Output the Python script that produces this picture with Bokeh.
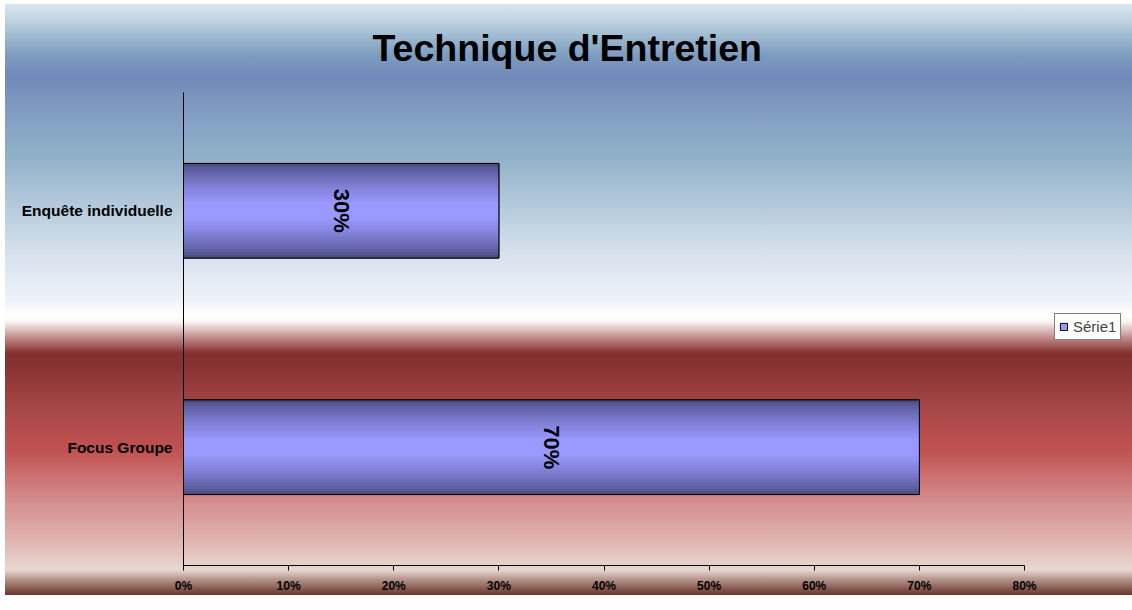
import math
from bokeh.plotting import figure
from bokeh.models import (ColumnDataSource, FactorRange, Range1d, NumeralTickFormatter,
                          FixedTicker, Legend, LegendItem)
from bokeh.core.properties import value
from bokeh.embed import file_html
from bokeh.resources import INLINE

# ---- data ----
categories = ["Focus Groupe", "Enquête individuelle"]   # bottom -> top
values = [0.70, 0.30]
value_labels = ["70%", "30%"]
series_name = "Série1"
x_ticks = [0.0, 0.1, 0.2, 0.3, 0.4, 0.5, 0.6, 0.7, 0.8]
title_text = "Technique d'Entretien"

source = ColumnDataSource(dict(
    cat=categories,
    val=values,
    mid=[v / 2 for v in values],
    lab=value_labels,
))

bg = ("linear-gradient(to right, #ffffff 5px, rgba(255,255,255,0) 5px), "
      "linear-gradient(to bottom, #ffffff 0px, #ffffff 4px, #d8e6f0 4px, "
      "#c0d4e2 20px, #98b4cc 40px, #7e9cc0 55px, #7088b8 78px, #7c98c0 100px, "
      "#90b0c8 155px, #d4e0ec 250px, #eef2f8 300px, #ffffff 316px, #faf2f2 322px, "
      "#c08888 338px, #843030 353px, #863232 365px, #a84848 410px, #c05252 450px, "
      "#d48c8c 500px, #e0b4b0 540px, #e8d8d0 570px, #b09088 580px, #6e3a30 594px)")

p = figure(
    y_range=FactorRange(factors=categories),
    x_range=Range1d(0, 0.8),
    frame_width=841, frame_height=473,
    min_border_left=183, min_border_right=100, min_border_top=92, min_border_bottom=29,
    output_backend="svg", toolbar_location=None,
    title=title_text,
)
p.styles = {"background": bg}
p.background_fill_color = None
p.border_fill_color = None
p.outline_line_color = None

p.title.text_font = "Liberation Sans"
p.title.text_font_size = "37.5px"
p.title.text_font_style = "bold"
p.title.text_color = "black"
p.title.align = "left"
p.title.offset = 189
p.title.standoff = 48

# ---- bars: base (legend proxy) + gradient layers + outline ----
r_base = p.hbar(y="cat", right="val", left=0, height=0.4, source=source,
                fill_color="#9999ff", line_color="black", line_width=1)

dark = (0x46, 0x46, 0x7a)
light = (0x99, 0x99, 0xff)
N = 16
for k in range(N):
    d = (k + 0.5) / N
    f = min(1.0, d / 0.85) ** 0.7
    c = tuple(int(round(dark[i] + (light[i] - dark[i]) * f)) for i in range(3))
    col = "#%02x%02x%02x" % c
    p.hbar(y="cat", right="val", left=0, height=0.4 * (1 - k / N), source=source,
           fill_color=col, line_color=None)

p.hbar(y="cat", right="val", left=0, height=0.4, source=source,
       fill_alpha=0, line_color="black", line_width=1)

p.text(x="mid", y="cat", text="lab", source=source, angle=-math.pi / 2,
       text_align="center", text_baseline="middle",
       text_font=value("Liberation Sans"), text_font_size="22px",
       text_font_style="bold", text_color="black")

legend = Legend(items=[LegendItem(label=series_name, renderers=[r_base])],
                location=(30, 225))
legend.label_text_font = "Liberation Sans"
legend.label_text_font_size = "15px"
legend.glyph_width = 9
legend.glyph_height = 9
legend.label_height = 15
legend.label_standoff = 5
legend.padding = 4
legend.spacing = 0
legend.margin = 0
legend.border_line_color = "black"
legend.border_line_width = 1
legend.background_fill_color = "white"
legend.background_fill_alpha = 1
p.add_layout(legend, "right")

# ---- axes ----
p.xgrid.visible = False
p.ygrid.visible = False

xa = p.xaxis[0]
xa.ticker = FixedTicker(ticks=x_ticks)
xa.formatter = NumeralTickFormatter(format="0%")
xa.axis_line_color = "black"
xa.major_tick_line_color = "black"
xa.major_tick_out = 5
xa.major_tick_in = 0
xa.minor_tick_line_color = None
xa.major_label_standoff = 8
xa.major_label_text_font = "Liberation Sans Narrow, Liberation Sans"
xa.major_label_text_font_size = "12px"
xa.major_label_text_font_style = "bold"
xa.major_label_text_color = "black"

ya = p.yaxis[0]
ya.axis_line_color = "black"
ya.major_tick_line_color = None
ya.major_tick_out = 0
ya.major_tick_in = 0
ya.minor_tick_line_color = None
ya.major_label_standoff = 11
ya.major_label_text_font = "Liberation Sans"
ya.major_label_text_font_size = "15.5px"
ya.major_label_text_font_style = "bold"
ya.major_label_text_color = "black"

open("out.html", "w").write(file_html(p, INLINE))
